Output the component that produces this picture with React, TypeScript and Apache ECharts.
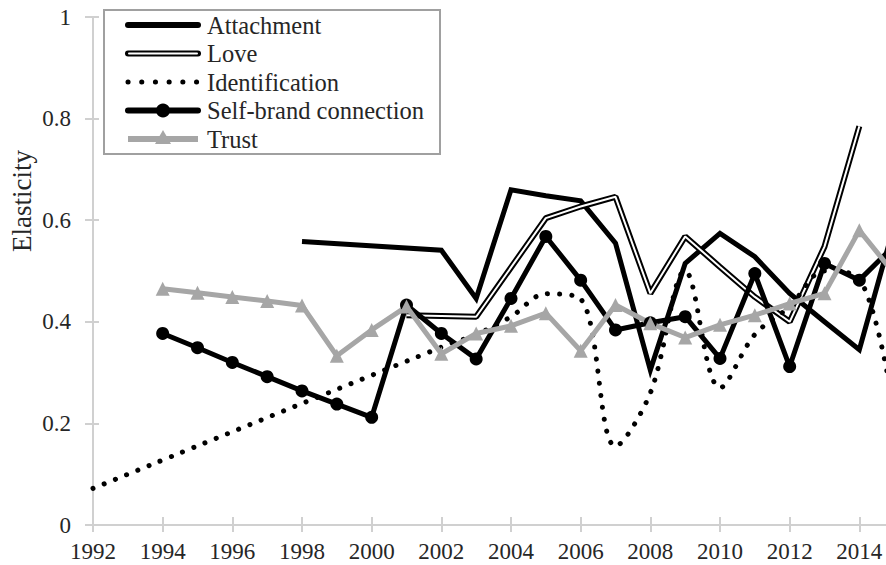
import React, { useEffect, useRef } from 'react';
import * as echarts from 'echarts';

const years = [1992, 1993, 1994, 1995, 1996, 1997, 1998, 1999, 2000, 2001, 2002, 2003, 2004, 2005, 2006, 2007, 2008, 2009, 2010, 2011, 2012, 2013, 2014, 2015];

const attachment = [null, null, null, null, null, null, 0.558, null, null, null, 0.541, 0.446, 0.66, 0.648, 0.638, 0.555, 0.305, 0.515, 0.574, 0.528, 0.456, 0.4, 0.345, 0.59];
const love = [null, null, null, null, null, null, null, null, null, 0.413, null, 0.41, 0.507, 0.604, 0.627, 0.646, 0.456, 0.568, 0.508, 0.449, 0.4, 0.548, 0.785, null];
const identification = [0.072, null, null, null, null, null, null, null, null, null, 0.35, 0.375, 0.41, 0.455, 0.445, 0.155, 0.26, 0.5, 0.27, 0.375, 0.43, 0.5, 0.485, 0.22];
const selfBrand = [null, null, 0.377, 0.349, 0.32, 0.292, 0.264, 0.238, 0.212, 0.433, 0.377, 0.327, 0.446, 0.568, 0.482, 0.384, 0.398, 0.41, 0.328, 0.495, 0.312, 0.515, 0.482, 0.55];
const trust = [null, null, 0.465, 0.457, 0.449, 0.441, 0.432, 0.333, 0.384, 0.43, 0.337, 0.377, 0.392, 0.417, 0.343, 0.433, 0.397, 0.369, 0.394, 0.413, 0.436, 0.456, 0.58, 0.495];

const seriesNames = ['Attachment', 'Love', 'Identification', 'Self-brand connection', 'Trust'];
const yTitle = 'Elasticity';

const toPairs = (vals: (number | null)[]) =>
  years.map((y, i) => [y, vals[i]]).filter((p) => p[1] !== null);

const FONT = "'Liberation Serif', 'Times New Roman', 'DejaVu Serif', serif";
const AXIS_GRAY = '#d0d0d0';
const TRUST_GRAY = '#a6a6a6';
const TEXT = '#262626';

export default function App() {
  const ref = useRef<HTMLDivElement>(null);
  useEffect(() => {
    if (!ref.current) return;
    const chart = echarts.init(ref.current, undefined, { renderer: 'svg' });
    const rows = [25, 53.5, 82, 110.5, 139];
    const lx1 = 128;
    const lx2 = 198;
    const lmid = 163;
    const tx = 207;
    const legendText = { fontFamily: FONT, fontSize: 24.5, fill: TEXT };
    const graphic: any[] = [
      {
        type: 'rect',
        shape: { x: 104, y: 10, width: 336, height: 144 },
        style: { fill: '#fff', stroke: '#a0a0a0', lineWidth: 2 },
        z: 100,
      },
      { type: 'line', shape: { x1: lx1, y1: rows[0], x2: lx2, y2: rows[0] }, style: { stroke: '#000', lineWidth: 6, lineCap: 'round' }, z: 101 },
      { type: 'line', shape: { x1: lx1, y1: rows[1], x2: lx2, y2: rows[1] }, style: { stroke: '#000', lineWidth: 6, lineCap: 'round' }, z: 101 },
      { type: 'line', shape: { x1: lx1 + 1, y1: rows[1], x2: lx2 - 1, y2: rows[1] }, style: { stroke: '#fff', lineWidth: 2, lineCap: 'round' }, z: 102 },
      { type: 'line', shape: { x1: lx1, y1: rows[2], x2: lx2, y2: rows[2] }, style: { stroke: '#000', lineWidth: 5, lineCap: 'round', lineDash: [0.1, 13.6] }, z: 101 },
      { type: 'line', shape: { x1: lx1, y1: rows[3], x2: lx2, y2: rows[3] }, style: { stroke: '#000', lineWidth: 6, lineCap: 'round' }, z: 101 },
      { type: 'circle', shape: { cx: lmid, cy: rows[3], r: 7 }, style: { fill: '#000' }, z: 102 },
      { type: 'line', shape: { x1: lx1, y1: rows[4], x2: lx2, y2: rows[4] }, style: { stroke: TRUST_GRAY, lineWidth: 6 }, z: 101 },
      { type: 'polygon', shape: { points: [[lmid, rows[4] - 9], [lmid + 8, rows[4] + 5], [lmid - 8, rows[4] + 5]] }, style: { fill: TRUST_GRAY }, z: 102 },
      {
        type: 'text',
        x: 22,
        y: 201,
        rotation: Math.PI / 2,
        style: { text: yTitle, fontFamily: FONT, fontSize: 27, fill: TEXT, align: 'center', verticalAlign: 'middle' },
        z: 101,
      },
    ];
    seriesNames.forEach((n, i) => {
      graphic.push({
        type: 'text',
        x: tx,
        y: rows[i],
        style: { text: n, ...legendText, align: 'left', verticalAlign: 'middle' },
        z: 103,
      });
    });

    const axisLabel = { fontFamily: FONT, fontSize: 23, color: TEXT };
    const option: any = {
      animation: false,
      textStyle: { fontFamily: FONT },
      grid: { left: 93, right: 11, top: 17, bottom: 40, containLabel: false },
      xAxis: [
        {
          type: 'value',
          min: 1992,
          max: 2016,
          interval: 2,
          position: 'bottom',
          axisLine: { lineStyle: { color: AXIS_GRAY, width: 2 } },
          axisTick: { show: true, inside: false, length: 7, lineStyle: { color: AXIS_GRAY, width: 2 } },
          axisLabel: { ...axisLabel, margin: 15, formatter: (v: number) => (v > 2014 ? '' : String(v)) },
          splitLine: { show: false },
        },
        {
          type: 'value',
          min: 1992,
          max: 2016,
          interval: 2,
          position: 'bottom',
          axisLine: { show: false },
          axisTick: { show: true, inside: true, length: 8, lineStyle: { color: AXIS_GRAY, width: 2 } },
          axisLabel: { show: false },
          splitLine: { show: false },
        },
      ],
      yAxis: [
        {
          type: 'value',
          min: 0,
          max: 1,
          interval: 0.2,
          position: 'left',
          axisLine: { show: true, lineStyle: { color: AXIS_GRAY, width: 2 } },
          axisTick: { show: true, inside: false, length: 8, lineStyle: { color: AXIS_GRAY, width: 2 } },
          axisLabel: { ...axisLabel, margin: 22, formatter: (v: number) => String(Number(v.toFixed(1))) },
          splitLine: { show: false },
        },
        {
          type: 'value',
          min: 0,
          max: 1,
          interval: 0.2,
          position: 'left',
          axisLine: { show: false },
          axisTick: { show: true, inside: true, length: 6, lineStyle: { color: AXIS_GRAY, width: 2 } },
          axisLabel: { show: false },
          splitLine: { show: false },
        },
      ],
      graphic,
      series: [
        {
          name: seriesNames[0],
          type: 'line',
          data: toPairs(attachment),
          symbol: 'none',
          lineStyle: { color: '#000', width: 5, join: 'miter' },
        },
        {
          name: seriesNames[1],
          type: 'line',
          data: toPairs(love),
          symbol: 'none',
          lineStyle: { color: '#000', width: 6 },
        },
        {
          name: seriesNames[1] + ' inner',
          type: 'line',
          data: toPairs(love),
          symbol: 'none',
          lineStyle: { color: '#fff', width: 2 },
        },
        {
          name: seriesNames[2],
          type: 'line',
          data: toPairs(identification),
          symbol: 'none',
          smooth: 0.35,
          lineStyle: { color: '#000', width: 5, type: [0.1, 12], cap: 'round' },
        },
        {
          name: seriesNames[3],
          type: 'line',
          data: toPairs(selfBrand),
          symbol: 'circle',
          symbolSize: 13,
          itemStyle: { color: '#000' },
          lineStyle: { color: '#000', width: 5 },
        },
        {
          name: seriesNames[4],
          type: 'line',
          data: toPairs(trust),
          symbol: 'triangle',
          symbolSize: 14,
          itemStyle: { color: TRUST_GRAY },
          lineStyle: { color: TRUST_GRAY, width: 5 },
        },
      ],
    };
    chart.setOption(option);
    return () => chart.dispose();
  }, []);

  return (
    <div style={{ position: 'absolute', left: 0, top: 0, width: 886, height: 565, overflow: 'hidden', background: '#fff' }}>
      <div ref={ref} style={{ width: 940, height: 565 }} />
    </div>
  );
}
